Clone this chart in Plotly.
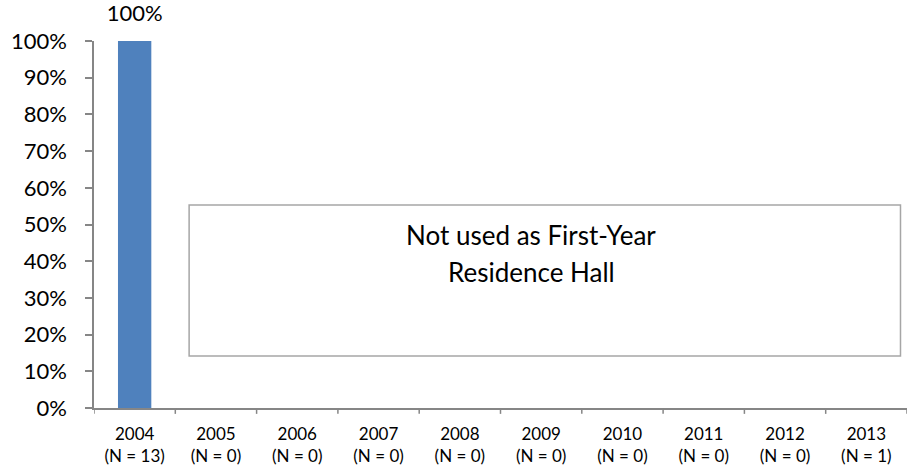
import plotly.graph_objects as go

years = ["2004", "2005", "2006", "2007", "2008", "2009", "2010", "2011", "2012", "2013"]
counts = [13, 0, 0, 0, 0, 0, 0, 0, 0, 1]
values = [1.0, None, None, None, None, None, None, None, None, None]
bar_labels = ["100%", "", "", "", "", "", "", "", "", ""]
note_lines = ["Not used as First-Year", "Residence Hall"]

tick_text = [f"{y}<br>(N = {n})" for y, n in zip(years, counts)]

FONT = "Lato, 'Open Sans', sans-serif"
AXIS_GRAY = "#868686"

fig = go.Figure()
fig.add_trace(go.Bar(
    x=years, y=values,
    marker=dict(color="#4F81BD", line=dict(width=0)),
    width=0.41,
    cliponaxis=False,
))

# data labels above bars (invisible marker sets the offset)
fig.add_trace(go.Scatter(
    x=years, y=values, mode="markers+text",
    text=bar_labels, textposition="top center",
    marker=dict(size=21, opacity=0),
    textfont=dict(size=22, color="#000000", family=FONT),
    cliponaxis=False, hoverinfo="skip",
))

fig.add_shape(type="rect", xref="paper", yref="paper",
              x0=0.117, x1=0.992, y0=0.142, y1=0.553,
              line=dict(color="#A6A6A6", width=1.5), fillcolor="white", layer="above")
for i, line in enumerate(note_lines):
    fig.add_annotation(xref="paper", yref="paper", x=0.538, y=[0.471, 0.370][i],
                       text=line, showarrow=False,
                       font=dict(size=26, color="#000000", family=FONT),
                       xanchor="center", yanchor="middle")

fig.update_layout(
    width=907, height=470,
    margin=dict(l=94, r=0, t=41, b=62),
    paper_bgcolor="white", plot_bgcolor="white",
    showlegend=False,
    font=dict(family=FONT, color="#000000"),
    xaxis=dict(
        tickmode="array", tickvals=years, ticktext=tick_text,
        tickfont=dict(size=17), showline=True, linecolor=AXIS_GRAY, linewidth=1.5,
        ticks="", showgrid=False, range=[-0.5, 9.5], automargin=False,
        ticklabelstandoff=10,
    ),
    yaxis=dict(
        range=[0, 1], tickvals=[i / 10 for i in range(11)], tickformat=".0%",
        tickfont=dict(size=22), showline=True, linecolor=AXIS_GRAY, linewidth=1.5,
        ticks="outside", ticklen=7, tickcolor=AXIS_GRAY, tickwidth=1.5, showgrid=False,
        zeroline=False, automargin=False, ticklabelstandoff=14,
    ),
)

# category boundary ticks on x axis
for i in range(11):
    fig.add_shape(type="line", xref="x", yref="paper", x0=i - 0.5, x1=i - 0.5,
                  y0=0, y1=-0.016, line=dict(color=AXIS_GRAY, width=1.5))

fig.write_html("out.html",
               config={"displayModeBar": False},
               post_script="document.body.style.margin='0';document.body.style.padding='0';")
